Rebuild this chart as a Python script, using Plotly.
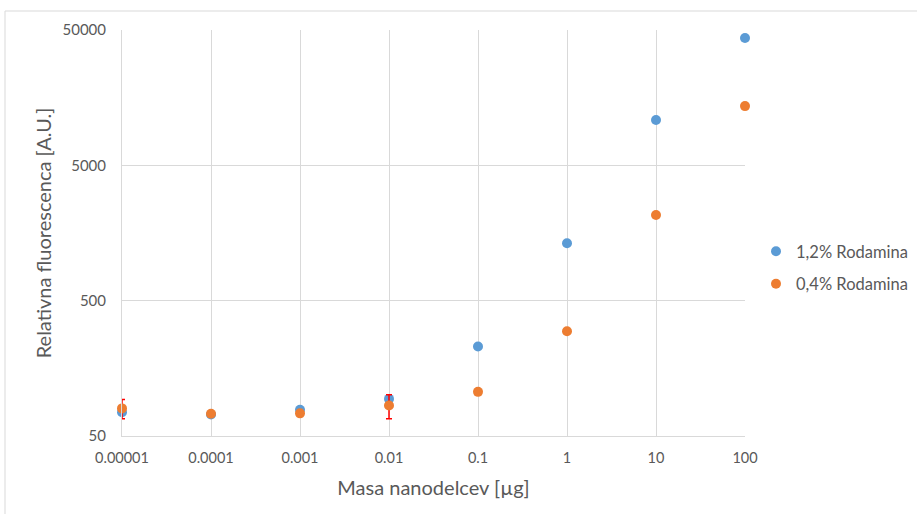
import plotly.graph_objects as go

x_vals = [0.00001, 0.0001, 0.001, 0.01, 0.1, 1, 10, 100]
x_ticks = ["0.00001", "0.0001", "0.001", "0.01", "0.1", "1", "10", "100"]
blue_vals = [75, 72, 78, 94, 229, 1330, 10800, 43700]
orange_vals = [80, 73, 73.5, 84, 106, 297, 2150, 13700]
orange_err = [13, 0, 0, 17, 0, 0, 0, 0]
y_ticks = [50, 500, 5000, 50000]

W, H = 917, 514
L, R, T, B = 122, 745, 30, 436

fig = go.Figure()
fig.add_trace(go.Scatter(
    x=x_vals, y=blue_vals, mode="markers", name="1,2% Rodamina",
    legendgroup="a", cliponaxis=False,
    marker=dict(color="#5B9BD5", size=10, line=dict(width=0)),
))
fig.add_trace(go.Scatter(
    x=x_vals, y=orange_vals, mode="markers", name="0,4% Rodamina",
    legendgroup="b", cliponaxis=False,
    marker=dict(color="#ED7D31", size=10, line=dict(width=0)),
    error_y=dict(type="data", array=orange_err, color="#FF0000", thickness=1.5, width=3),
))

font = "Lato, 'Open Sans', sans-serif"
fig.update_layout(
    width=W, height=H,
    margin=dict(l=L, r=W - R, t=T, b=H - B, pad=0, autoexpand=False),
    paper_bgcolor="white", plot_bgcolor="white",
    font=dict(family=font, color="#595959", size=15),
    xaxis=dict(
        type="log", range=[-5, 2],
        tickvals=x_vals, ticktext=x_ticks,
        showgrid=True, gridcolor="#d9d9d9", gridwidth=1,
        showline=True, linecolor="#d9d9d9", zeroline=False,
        ticks="", ticklabelstandoff=9,
        tickfont=dict(size=14.5, color="#595959"),
        title=dict(text="Masa nanodelcev [µg]", font=dict(size=20, color="#595959"), standoff=15),
    ),
    yaxis=dict(
        type="log", range=[1.69897, 4.69897],
        tickvals=y_ticks, ticktext=[str(v) for v in y_ticks],
        showgrid=True, gridcolor="#d9d9d9", gridwidth=1,
        showline=True, linecolor="#d9d9d9", zeroline=False,
        ticks="", ticklabelstandoff=12,
        tickfont=dict(size=15, color="#595959"),
        title=dict(text="Relativna fluorescenca [A.U.]", font=dict(size=20, color="#595959"), standoff=5),
    ),
    legend=dict(
        x=(756 - L) / (R - L), y=(B - 234) / (B - T), xanchor="left", yanchor="top",
        font=dict(size=16.5, color="#595959"), traceorder="grouped", tracegroupgap=8,
        itemwidth=30, bgcolor="rgba(0,0,0,0)",
    ),
    showlegend=True,
)

fig.add_shape(
    type="rect", xref="paper", yref="paper",
    x0=(5 - L) / (R - L), x1=(930 - L) / (R - L),
    y0=(B - 560) / (B - T), y1=(B - 11) / (B - T),
    line=dict(color="#d9d9d9", width=1), fillcolor="rgba(0,0,0,0)", layer="below",
)

fig.write_html("out.html")
